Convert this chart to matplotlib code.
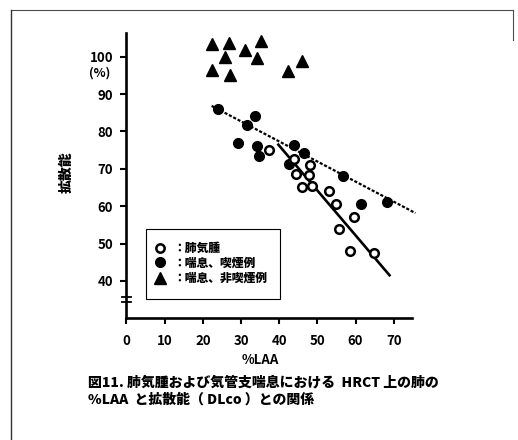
import matplotlib
matplotlib.use("Agg")
import matplotlib.pyplot as plt
from matplotlib.lines import Line2D
from matplotlib.patches import Rectangle
import numpy as np

plt.rcParams["font.family"] = ["Noto Sans CJK JP", "DejaVu Sans"]
plt.rcParams["font.weight"] = "bold"

# 肺気腫 (open circles)
emph_x = [37.3, 43.8, 44.3, 48.1, 47.9, 45.9, 48.6, 53.1, 54.9, 59.6, 55.7, 58.6, 64.9]
emph_y = [74.9, 72.5, 68.7, 71.1, 68.4, 65.0, 65.4, 64.0, 60.6, 57.0, 54.0, 47.9, 47.4]

# 喘息、喫煙例 (filled circles)
smk_x = [24.1, 33.7, 31.5, 29.1, 34.2, 34.6, 43.8, 46.4, 42.7, 56.6, 61.5, 68.2]
smk_y = [85.9, 84.1, 81.6, 76.8, 76.1, 73.3, 76.4, 74.3, 71.2, 68.2, 60.6, 61.1]

# 喘息、非喫煙例 (triangles)
non_x = [22.3, 26.9, 35.3, 31.1, 25.9, 34.2, 45.9, 22.3, 27.1, 42.3]
non_y = [103.4, 103.6, 104.3, 101.8, 99.8, 99.6, 98.9, 96.3, 95.0, 96.1]

# regression lines: (slope, intercept, x range)
fit_smk = (-0.537, 98.8, (22.3, 75.7))
fit_emph = (-1.2, 124.2, (39.8, 68.9))

xticks = [0, 10, 20, 30, 40, 50, 60, 70]
yticks = [40, 50, 60, 70, 80, 90, 100]
legend_labels = ["：肺気腫", "：喘息、喫煙例", "：喘息、非喫煙例"]
caption = ["図11. 肺気腫および気管支喘息における  HRCT 上の肺の",
           "%LAA  と拡散能（ DLco ）との関係"]

W, H = 518, 440
fig = plt.figure(figsize=(W / 100, H / 100), dpi=100)
ax = fig.add_axes([0.2442, 0.2766, 0.5512, 0.6473])
ax.set_xlim(0, 74.8)
ax.set_ylim(30, 106.2)

for sp in ("top", "right"):
    ax.spines[sp].set_visible(False)
for sp in ("left", "bottom"):
    ax.spines[sp].set_linewidth(1.9)
ax.set_xticks(xticks)
ax.set_yticks(yticks)
ax.tick_params(axis="both", length=4.5, width=1.5, labelsize=9.5, direction="out")
ax.tick_params(axis="x", pad=7)
ax.tick_params(axis="y", pad=5)

# regression lines
for (m, b, (x0, x1)), ls, lw in ((fit_smk, (0, (1.4, 0.8)), 1.6), (fit_emph, "-", 1.9)):
    xs = np.array([x0, x1])
    ax.plot(xs, m * xs + b, color="black", linestyle=ls, linewidth=lw, clip_on=False)

ax.plot(non_x, non_y, linestyle="none", marker="^", markersize=8.5, color="black", clip_on=False)
ax.plot(smk_x, smk_y, linestyle="none", marker="o", markersize=7, color="black")
ax.plot(emph_x, emph_y, linestyle="none", marker="o", markersize=6.2, markerfacecolor="white",
        markeredgecolor="black", markeredgewidth=1.8)

# axis break marks
for yb in (34.4, 35.6):
    ax.plot([-1.3, 1.3], [yb, yb], color="black", linewidth=1.3, clip_on=False)

# legend box
ax.add_patch(Rectangle((5.0, 35.1), 35.2, 18.8, fill=False, edgecolor="black", linewidth=0.8))
leg_y = [48.8, 45.0, 40.8]
ax.plot(8.8, leg_y[0], marker="o", markersize=6, markerfacecolor="white",
        markeredgecolor="black", markeredgewidth=1.8)
ax.plot(8.8, leg_y[1], marker="o", markersize=7, color="black")
ax.plot(8.8, leg_y[2], marker="^", markersize=8.5, color="black")
for yv, lab in zip(leg_y, legend_labels):
    ax.text(12.3, yv, lab, fontsize=8.5, fontweight="heavy", va="center", ha="left")

# labels
fig.text(100 / W, 1 - 73 / H, "(%)", fontsize=9, ha="center", va="center")
fig.text(67 / W, 1 - 172 / H, "拡散能", fontsize=10, fontweight="heavy", rotation=90,
         ha="center", va="center")
fig.text(260 / W, 1 - 360 / H, "%LAA", fontsize=9.5, ha="center", va="center")
for i, line in enumerate(caption):
    fig.text(88 / W, 1 - (382 + 18 * i) / H, line, fontsize=10, fontweight="heavy",
             ha="left", va="center")

# frame around the figure
fig.add_artist(Line2D([11 / W, 513 / W], [1 - 10 / H, 1 - 10 / H], color="0.3", linewidth=0.8))
fig.add_artist(Line2D([11 / W, 11 / W], [0, 1 - 10 / H], color="0.2", linewidth=1.0))
fig.add_artist(Line2D([513 / W, 513 / W], [1 - 40 / H, 1 - 10 / H], color="0.3", linewidth=0.8))

fig.savefig("out.png", dpi=100)
